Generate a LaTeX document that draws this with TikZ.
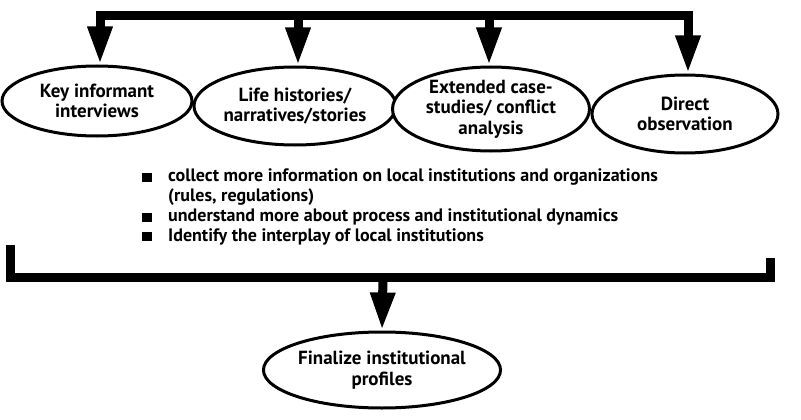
\documentclass[tikz,border=0pt]{standalone}
\usepackage{fontspec}
\setmainfont{PT Sans}
\usetikzlibrary{shapes.geometric,arrows.meta}
\newcommand{\blt}{\makebox[26pt][l]{\rule{10pt}{9pt}}}
\newcommand{\ind}{\hspace*{26pt}}
\begin{document}
\begin{tikzpicture}[x=1pt,y=-1pt,
  oval/.style={ellipse,draw,line width=3pt,fill=white,inner sep=0pt,align=center,
    font=\bfseries\fontsize{19}{20.5}\selectfont},
  bar/.style={line width=9pt},
  arr/.style={bar,-{Triangle[width=23pt,length=38pt]}},
]
\useasboundingbox (0,0) rectangle (801,420);

% method ovals
\node[oval,minimum width=190pt,minimum height=70pt] (e1) at (97,101) {Key informant\\interviews};
\node[oval,minimum width=184pt,minimum height=78pt] (e2) at (295,106) {Life histories/\\narratives/stories};
\node[oval,minimum width=197pt,minimum height=84pt] (e3) at (491,109) {Extended case-\\studies/ conflict\\analysis};
\node[oval,minimum width=186pt,minimum height=78pt] (e4) at (685,114) {Direct\\observation};

% result oval
\node[oval,minimum width=215pt,minimum height=76pt] (f) at (382,370) {Finalize institutional\\profiles};

% top distribution bar
\coordinate (t1) at (100,16);
\coordinate (t2) at (298,16);
\coordinate (t3) at (489,16);
\coordinate (t4) at (688,16);
\draw[bar,line cap=rect] (t1) -- (t4);
\draw[arr] (t1) -- (t1 |- e1.north);
\draw[arr] (t2) -- (t2 |- e2.north);
\draw[arr] (t3) -- (t3 |- e3.north);
\draw[arr] (t4) -- (t4 |- e4.north);

% bullet list of aims
\node[anchor=north west,inner sep=0pt,align=left,
  font=\bfseries\fontsize{18}{19.8}\selectfont] (notes) at (142,169)
  {\blt collect more information on local institutions and organizations\\
   \ind(rules, regulations)\\
   \blt understand more about process and institutional dynamics\\
   \blt Identify the interplay of local institutions};

% bottom collecting bracket
\coordinate (b1) at (10,245);
\coordinate (b2) at (770,258);
\coordinate (bm) at (383,277);
\draw[bar,line join=miter] (b1) -- (b1 |- bm) -- (b2 |- bm) -- (b2);
\draw[arr] (bm) -- (f.north);
\end{tikzpicture}
\end{document}
